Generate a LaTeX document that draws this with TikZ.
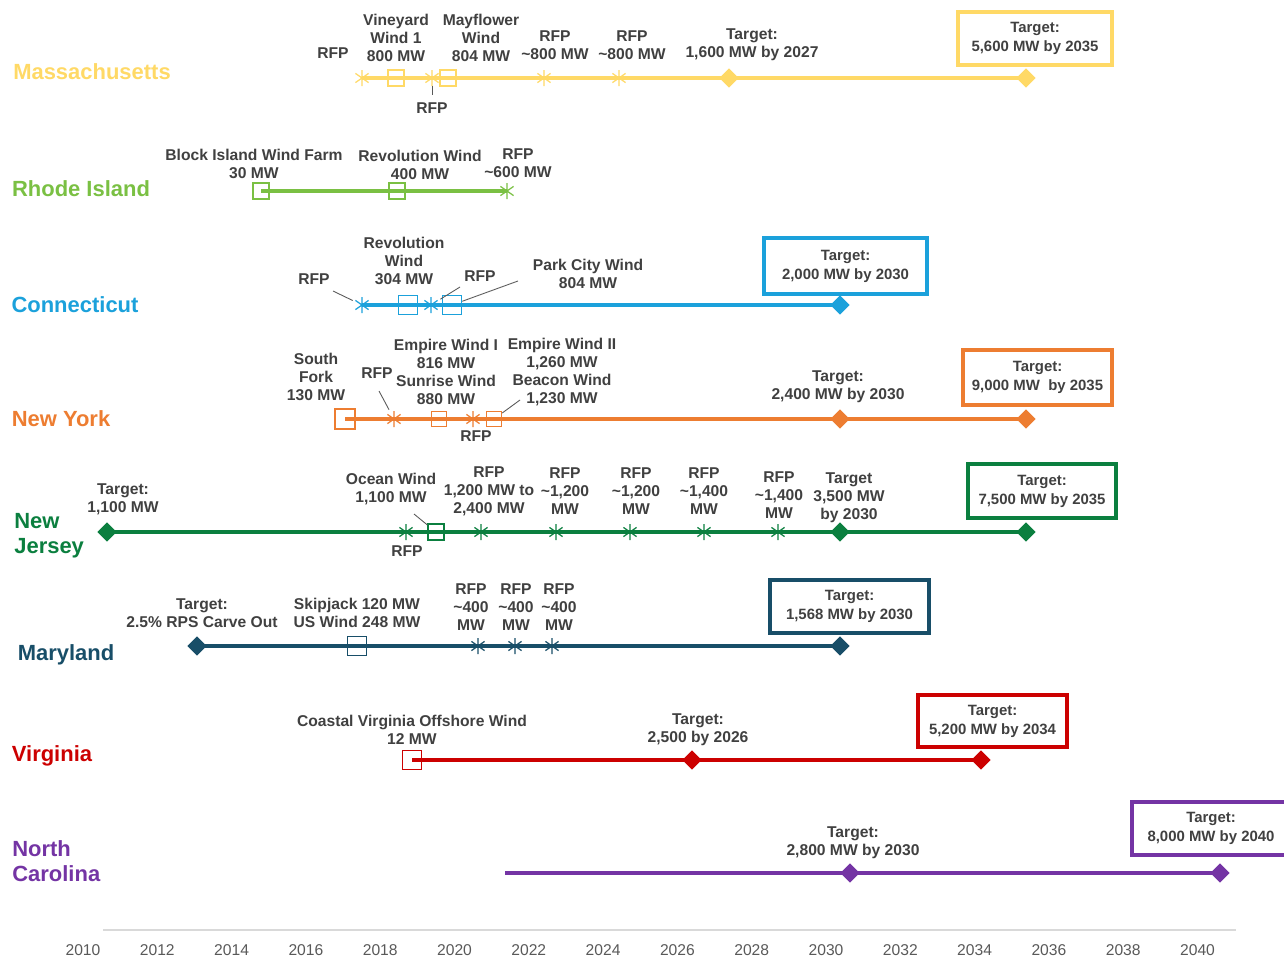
\documentclass[tikz,border=0pt]{standalone}
\usepackage{fontspec}
\setmainfont{Liberation Sans}
\usetikzlibrary{shapes.geometric}
\definecolor{cMA}{HTML}{FFD966}
\definecolor{cRI}{HTML}{7AC043}
\definecolor{cCT}{HTML}{1BA1DB}
\definecolor{cNY}{HTML}{ED7D31}
\definecolor{cNJ}{HTML}{0B7F3F}
\definecolor{cMD}{HTML}{184E68}
\definecolor{cVA}{HTML}{CC0000}
\definecolor{cNC}{HTML}{7434A4}
\definecolor{txt}{HTML}{404040}
\definecolor{axc}{HTML}{595959}
\definecolor{axl}{HTML}{D9D9D9}
\newcommand\lbfont{\fontsize{8.9}{10.2}\selectfont\bfseries}
\newcommand\bxfont{\fontsize{8.5}{10.8}\selectfont\bfseries}
\newcommand\stfont{\fontsize{12.5}{14.2}\selectfont\bfseries}
\newcommand\axfont{\fontsize{8.9}{10}\selectfont}
\begin{document}
\begin{tikzpicture}[x=0.02cm,y=-0.02cm,
  lbl/.style={font=\lbfont, text=txt, align=center, inner sep=0pt},
  st/.style={font=\stfont, text=#1, align=left, inner sep=0pt},
  sq/.style={draw=#1, line width=0.8pt, minimum size=0.32cm, inner sep=0pt},
  dia/.style={diamond, fill=#1, minimum width=0.39cm, minimum height=0.39cm, inner sep=0pt},
  ast/.style={minimum size=0.36cm, inner sep=0pt,
    path picture={\draw[#1, line width=0.7pt] (path picture bounding box.center)
      +(90:0.16cm) -- +(270:0.16cm) +(35:0.16cm) -- +(215:0.16cm) +(145:0.16cm) -- +(325:0.16cm);}},
  tl/.style={draw=#1, line width=2.1pt},
  tbox/.style={draw=#1, line width=2pt, font=\bxfont, text=txt, align=center, inner sep=0pt},
  lead/.style={draw=axc, line width=0.5pt},
  yr/.style={font=\axfont, text=axc, inner sep=0pt}
]
\useasboundingbox (0,0) rectangle (1284,957);

% ---------------- Massachusetts
\node[st=cMA] (sMA) at (92,72) {Massachusetts};
\node[ast=cMA] (ma1) at (362,78) {};
\node[sq=cMA] (ma2) at (396,78) {};
\node[ast=cMA] (ma3) at (432,78) {};
\node[sq=cMA] (ma4) at (448,78) {};
\node[ast=cMA] (ma5) at (544,78) {};
\node[ast=cMA] (ma6) at (619,78) {};
\node[dia=cMA] (ma7) at (729,78) {};
\node[dia=cMA] (ma8) at (1026,78) {};
\draw[tl=cMA] (ma1.center) -- (ma8.center);
\node[lbl] (lma1) at (333,53) {RFP};
\node[lbl] (lma2) at (396,38) {Vineyard\\Wind 1\\800 MW};
\node[lbl] (lma3) at (481,38) {Mayflower\\Wind\\804 MW};
\node[lbl] (lma4) at (555,45) {RFP\\\textasciitilde800 MW};
\node[lbl] (lma5) at (632,45) {RFP\\\textasciitilde800 MW};
\node[lbl] (lma6) at (752,45) {Target:\\1,600 MW by 2027};
\node[lbl] (lma7) at (432,108) {RFP};
\draw[lead, shorten <=-1pt, shorten >=4pt] (ma3) -- (lma7);
\node[tbox=cMA, minimum width=3.08cm, minimum height=1.06cm] (bMA) at (1035,38.5) {Target:\\5,600 MW by 2035};

% ---------------- Rhode Island
\node[st=cRI] (sRI) at (81,189) {Rhode Island};
\node[sq=cRI] (ri1) at (261,191) {};
\node[sq=cRI] (ri2) at (397,191) {};
\node[ast=cRI] (ri3) at (507,191) {};
\draw[tl=cRI] (ri1.center) -- (ri3.center);
\node[lbl] (lri1) at (254,164) {Block Island Wind Farm\\30 MW};
\node[lbl] (lri2) at (420,165) {Revolution Wind\\400 MW};
\node[lbl] (lri3) at (518,163) {RFP\\\textasciitilde600 MW};

% ---------------- Connecticut
\node[st=cCT] (sCT) at (75,305) {Connecticut};
\node[ast=cCT] (ct1) at (362,305) {};
\node[sq=cCT, minimum size=0.39cm] (ct2) at (408,305) {};
\node[ast=cCT] (ct3) at (431,305) {};
\node[sq=cCT, minimum size=0.38cm] (ct4) at (452,305) {};
\node[dia=cCT] (ct5) at (840,305) {};
\draw[tl=cCT] (ct1.center) -- (ct5.center);
\node[lbl] (lct1) at (314,279) {RFP};
\node[lbl] (lct2) at (404,261) {Revolution\\Wind\\304 MW};
\node[lbl] (lct3) at (480,276) {RFP};
\node[lbl] (lct4) at (588,274) {Park City Wind\\804 MW};
\coordinate (cct1) at (333,291);
\coordinate (cct3) at (460,287);
\coordinate (cct4) at (518,281);
\draw[lead] (cct1) -- (ct1);
\draw[lead] (cct3) -- (ct3);
\draw[lead] (cct4) -- (ct4);
\node[tbox=cCT, minimum width=3.26cm, minimum height=1.12cm] (bCT) at (845.5,266) {Target:\\2,000 MW by 2030};

% ---------------- New York
\node[st=cNY] (sNY) at (61,419) {New York};
\node[sq=cNY, minimum size=0.4cm] (ny1) at (345,419) {};
\node[ast=cNY] (ny2) at (394,419) {};
\node[sq=cNY, minimum size=0.3cm] (ny3) at (439,419) {};
\node[ast=cNY] (ny4) at (473,419) {};
\node[sq=cNY, minimum size=0.3cm] (ny5) at (494,419) {};
\node[dia=cNY] (ny6) at (840,419) {};
\node[dia=cNY] (ny7) at (1026,419) {};
\draw[tl=cNY] (ny1.center) -- (ny7.center);
\node[lbl] (lny1) at (316,377) {South\\Fork\\130 MW};
\node[lbl] (lny2) at (377,373) {RFP};
\node[lbl] (lny3) at (446,372) {Empire Wind I\\816 MW\\Sunrise Wind\\880 MW};
\node[lbl] (lny4) at (562,372) {Empire Wind II\\1,260 MW\\Beacon Wind\\1,230 MW};
\node[lbl] (lny5) at (476,436) {RFP};
\node[lbl] (lny6) at (838,387) {Target:\\2,400 MW by 2030};
\coordinate (cny2) at (379,391);
\coordinate (cny5) at (520,400);
\draw[lead] (cny2) -- (ny2);
\draw[lead] (cny5) -- (ny5);
\node[tbox=cNY, minimum width=2.98cm, minimum height=1.1cm] (bNY) at (1037.5,377.5) {Target:\\9,000 MW\ \ by 2035};

% ---------------- New Jersey
\node[st=cNJ, anchor=west] (sNJ) at (14,536) {New\\Jersey};
\node[dia=cNJ] (nj1) at (107,532) {};
\node[ast=cNJ] (nj2) at (406,532) {};
\node[sq=cNJ] (nj3) at (436,532) {};
\node[ast=cNJ] (nj4) at (481,532) {};
\node[ast=cNJ] (nj5) at (556,532) {};
\node[ast=cNJ] (nj6) at (630,532) {};
\node[ast=cNJ] (nj7) at (704,532) {};
\node[ast=cNJ] (nj8) at (778,532) {};
\node[dia=cNJ] (nj9) at (840,532) {};
\node[dia=cNJ] (nj10) at (1026,532) {};
\draw[tl=cNJ] (nj1.center) -- (nj10.center);
\node[lbl] (lnj1) at (123,499) {Target:\\1,100 MW};
\node[lbl] (lnj2) at (391,489) {Ocean Wind\\1,100 MW};
\node[lbl] (lnj3) at (407,551) {RFP};
\node[lbl] (lnj4) at (489,491) {RFP\\1,200 MW to\\2,400 MW};
\node[lbl] (lnj5) at (565,491) {RFP\\\textasciitilde1,200\\MW};
\node[lbl] (lnj6) at (636,491) {RFP\\\textasciitilde1,200\\MW};
\node[lbl] (lnj7) at (704,491) {RFP\\\textasciitilde1,400\\MW};
\node[lbl] (lnj8) at (779,495) {RFP\\\textasciitilde1,400\\MW};
\node[lbl] (lnj9) at (849,498) {Target\\3,500 MW\\by 2030};
\coordinate (cnj3) at (414,514);
\draw[lead] (cnj3) -- (nj3);
\node[tbox=cNJ, minimum width=2.96cm, minimum height=1.08cm] (bNJ) at (1042,491) {Target:\\7,500 MW by 2035};

% ---------------- Maryland
\node[st=cMD] (sMD) at (66,655) {Maryland};
\node[dia=cMD] (md1) at (197,646) {};
\node[sq=cMD, minimum size=0.37cm] (md2) at (357,646) {};
\node[ast=cMD] (md3) at (478,646) {};
\node[ast=cMD] (md4) at (515,646) {};
\node[ast=cMD] (md5) at (552,646) {};
\node[dia=cMD] (md6) at (840,646) {};
\draw[tl=cMD] (md1.center) -- (md6.center);
\node[lbl] (lmd1) at (202,613) {Target:\\2.5\% RPS Carve Out};
\node[lbl] (lmd2) at (357,613) {Skipjack 120 MW\\US Wind 248 MW};
\node[lbl] (lmd3) at (471,607) {RFP\\\textasciitilde400\\MW};
\node[lbl] (lmd4) at (516,607) {RFP\\\textasciitilde400\\MW};
\node[lbl] (lmd5) at (559,607) {RFP\\\textasciitilde400\\MW};
\node[tbox=cMD, minimum width=3.18cm, minimum height=1.06cm] (bMD) at (849.5,606.5) {Target:\\1,568 MW by 2030};

% ---------------- Virginia
\node[st=cVA] (sVA) at (52,756) {Virginia};
\node[sq=cVA, minimum size=0.38cm] (va1) at (412,760) {};
\node[dia=cVA] (va2) at (692,760) {};
\node[dia=cVA] (va3) at (981,760) {};
\draw[tl=cVA] (va1.center) -- (va3.center);
\node[lbl] (lva1) at (412,730) {Coastal Virginia Offshore Wind\\12 MW};
\node[lbl] (lva2) at (698,730) {Target:\\2,500 by 2026};
\node[tbox=cVA, minimum width=2.98cm, minimum height=1.04cm] (bVA) at (992.5,721) {Target:\\5,200 MW by 2034};

% ---------------- North Carolina
\node[st=cNC, anchor=west] (sNC) at (12,861) {North\\Carolina};
\coordinate (nc0) at (505,873);
\node[dia=cNC] (nc1) at (850,873) {};
\node[dia=cNC] (nc2) at (1220,873) {};
\draw[tl=cNC] (nc0) -- (nc2.center);
\node[lbl] (lnc1) at (853,843) {Target:\\2,800 MW by 2030};
\node[tbox=cNC, minimum width=3.16cm, minimum height=1.06cm] (bNC) at (1211,828.5) {Target:\\8,000 MW by 2040};

% ---------------- Axis
\coordinate (axL) at (103,930);
\coordinate (axR) at (1236,930);
\draw[draw=axl, line width=1.1pt] (axL) -- (axR);
\foreach \yy [count=\i from 0] in {2010,2012,...,2040}
  \node[yr] (y\yy) at ({83+\i*74.3},950) {\yy};
\end{tikzpicture}
\end{document}
